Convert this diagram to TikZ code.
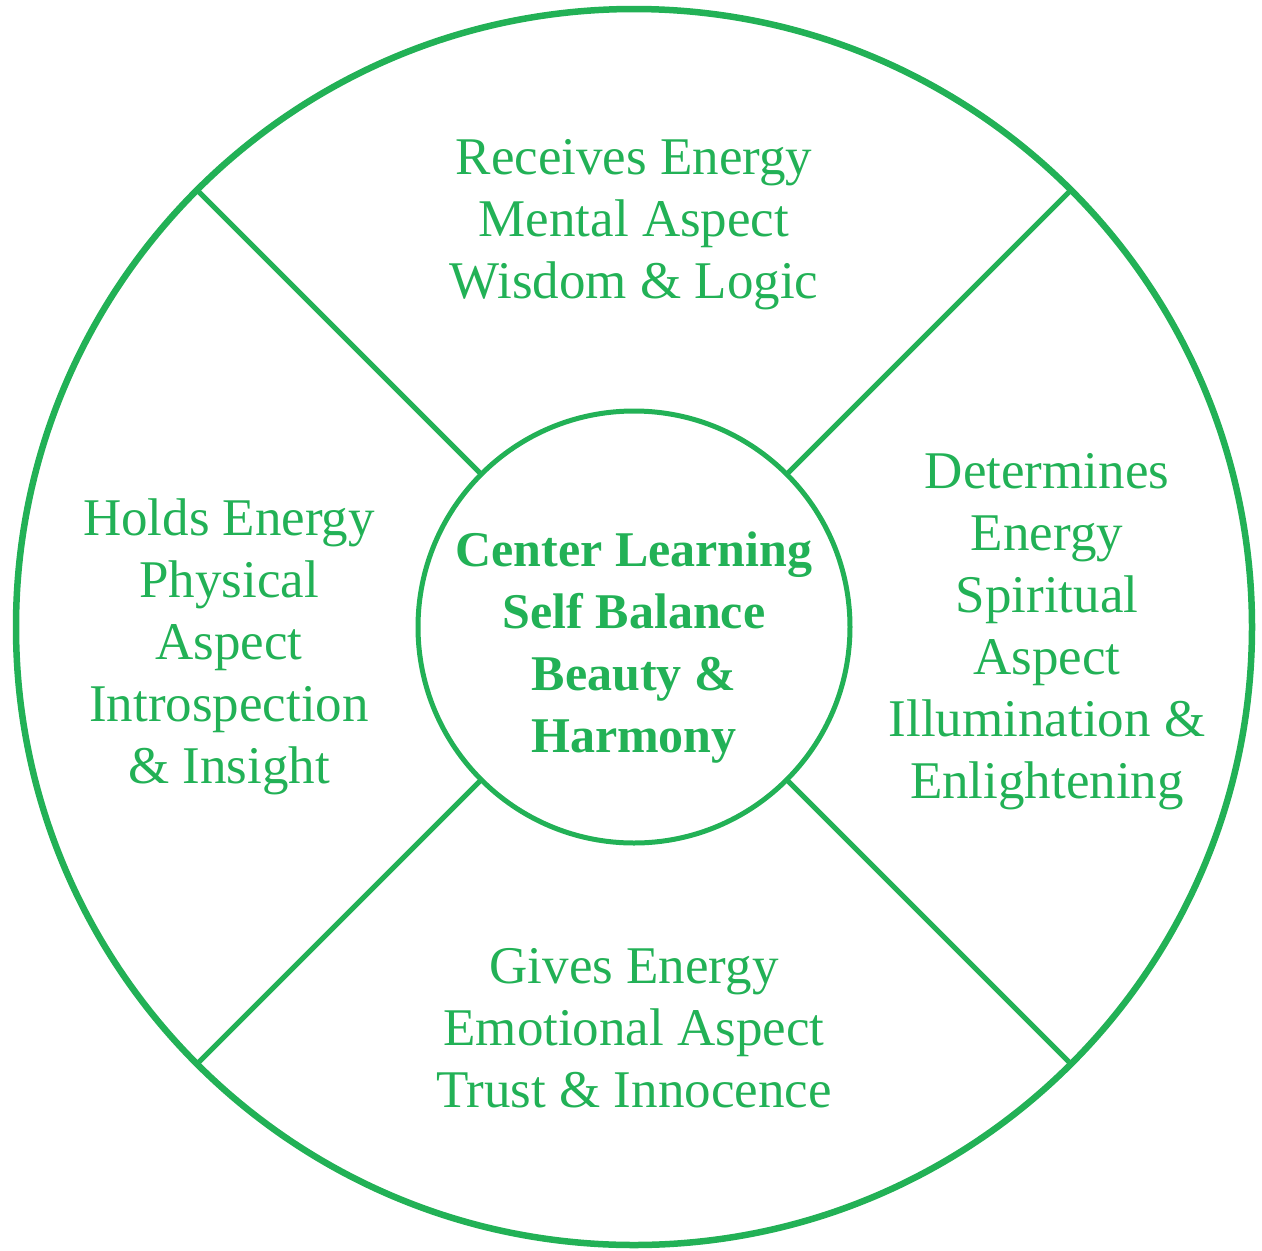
\documentclass[tikz,border=0pt]{standalone}
\usepackage{fontspec}
\setmainfont{Liberation Serif}
\definecolor{wheelgreen}{RGB}{34,177,86}

\tikzstyle{ring} = [circle, draw=wheelgreen, outer sep=0pt, inner sep=0pt]
\tikzstyle{quarter} = [text=wheelgreen, align=center, font=\fontsize{53}{62}\selectfont]
\tikzstyle{core} = [text=wheelgreen, align=center, font=\fontsize{50}{62}\selectfont\bfseries]

\begin{document}
\begin{tikzpicture}[x=1pt, y=-1pt]

	\useasboundingbox (0,0) rectangle (1262,1251);

	\node (rim) [ring, line width=6.5pt, minimum size=1236pt] at (634,627) {};
	\node (hub) [ring, line width=5pt, minimum size=432pt] at (634,627) {};

	\node (hubtext) [core] at (634,648) {Center Learning\\Self Balance\\Beauty \&\\Harmony};

	\node (north) [quarter] at (634,225) {Receives Energy\\Mental Aspect\\Wisdom \& Logic};
	\node (west) [quarter] at (229,647) {Holds Energy\\Physical\\Aspect\\Introspection\\\& Insight};
	\node (east) [quarter] at (1047,632) {Determines\\Energy\\Spiritual\\Aspect\\Illumination \&\\Enlightening};
	\node (south) [quarter] at (634,1028) {Gives Energy\\Emotional Aspect\\Trust \& Innocence};

	\foreach \a in {45,135,225,315}
		\draw [wheelgreen, line width=5pt] (hub.\a) -- (rim.\a);

\end{tikzpicture}
\end{document}
